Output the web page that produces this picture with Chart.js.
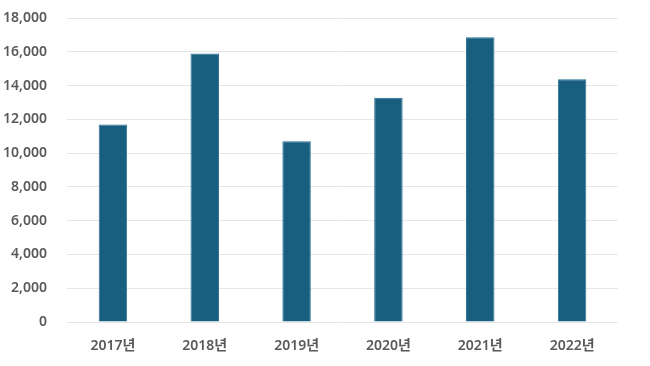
<!DOCTYPE html>
<html>
<head>
<meta charset="utf-8">
<script src="https://cdn.jsdelivr.net/npm/chart.js@4"></script>
<style>
  html, body { margin: 0; padding: 0; background: #fff; }
  #wrap { width: 650px; height: 366px; }
</style>
</head>
<body>
<div id="wrap"><canvas id="myChart" width="650" height="366"></canvas></div>
<script>
// 연도별 값
var years = ["2017년", "2018년", "2019년", "2020년", "2021년", "2022년"];
var values = [11700, 15900, 10700, 13280, 16860, 14370];
var yTicks = [0, 2000, 4000, 6000, 8000, 10000, 12000, 14000, 16000, 18000];

var ctx = document.getElementById("myChart").getContext("2d");
var font = { family: "'Noto Sans', 'Noto Sans CJK KR', sans-serif", size: 14, weight: "600" };

var myChart = new Chart(ctx, {
  type: "bar",
  data: {
    labels: years,
    datasets: [
      {
        label: "값",
        data: values,
        backgroundColor: "#175e7f",
        borderColor: "#2b7196",
        borderWidth: 1,
        barPercentage: 0.31,
        categoryPercentage: 1,
      },
    ],
  },
  options: {
    responsive: false,
    animation: false,
    layout: { padding: { top: 18, right: 32, left: 0, bottom: 0 } },
    plugins: { legend: { display: false }, tooltip: { enabled: false } },
    scales: {
      x: {
        grid: { display: false },
        border: { display: false },
        ticks: { color: "#595959", font: font, padding: 8 },
        afterFit: function (scale) { scale.height = 44; },
      },
      y: {
        min: yTicks[0],
        max: yTicks[yTicks.length - 1],
        afterBuildTicks: function (scale) {
          scale.ticks = yTicks.map(function (v) { return { value: v }; });
        },
        grid: { color: "#e6e6e6", drawTicks: false },
        border: { display: false },
        ticks: {
          color: "#595959",
          font: font,
          padding: 20,
          callback: function (v) { return v.toLocaleString("en-US"); },
        },
        afterFit: function (scale) {
          scale.width = 67;
          // 라벨 여백이 위쪽까지 밀지 않도록
          scale.paddingTop = 9;
          scale.paddingBottom = 9;
        },
      },
    },
  },
});
</script>
</body>
</html>
